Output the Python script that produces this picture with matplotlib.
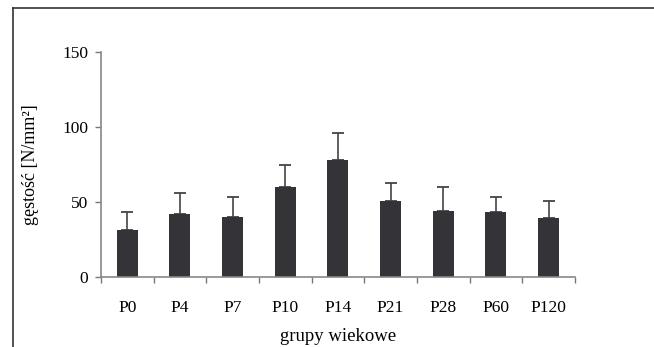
import numpy as np
from matplotlib import pyplot as plt
from matplotlib.lines import Line2D

groups = ["P0", "P4", "P7", "P10", "P14", "P21", "P28", "P60", "P120"]
density = [31.5, 42.2, 40.2, 60.2, 78.2, 50.9, 44.2, 43.5, 39.8]
sd = [12.0, 14.2, 13.6, 14.7, 17.8, 12.2, 15.8, 10.3, 11.3]

plt.rcParams['font.family'] = ['Liberation Serif', 'DejaVu Serif']

fig = plt.figure(figsize=(6.54, 3.47), dpi=100)
ax = fig.add_axes([0.1544, 0.2009, 0.7246, 0.6481])

x = np.arange(len(groups))
ax.bar(x, density, width=0.4, color="#333338", zorder=2)
ax.errorbar(x, density, yerr=[np.zeros(len(sd)), sd], fmt="none",
            ecolor="#444444", elinewidth=1.2, capsize=4.5, capthick=1.3, zorder=1)

ax.set_xlim(-0.5, len(groups) - 0.5)
ax.set_ylim(0, 150)
ax.set_yticks([0, 50, 100, 150])
ax.set_xticks(x)
ax.set_xticklabels(groups)
ax.set_xticks(np.arange(-0.5, len(groups)), minor=True)
ax.tick_params(axis="x", which="major", length=0, pad=16, labelsize=12.5)
ax.tick_params(axis="x", which="minor", length=4, color="#777777", width=1)
ax.tick_params(axis="y", length=4, color="#777777", width=1, labelsize=12.5, pad=5)

for s in ["top", "right"]:
    ax.spines[s].set_visible(False)
for s in ["left", "bottom"]:
    ax.spines[s].set_color("#888888")
    ax.spines[s].set_linewidth(1.2)

ax.set_xlabel("grupy wiekowe", fontsize=13.5, va="center")
ax.xaxis.set_label_coords(0.5, -0.262)
ax.set_ylabel("gęstość [N/mm²]", fontsize=13, va="center")
ax.yaxis.set_label_coords(-0.148, 0.5)

# outer frame (left and top edges visible)
fig.add_artist(Line2D([12.5 / 654, 12.5 / 654], [0, 1 - 7.5 / 347], color="#333333", lw=1.2))
fig.add_artist(Line2D([12.5 / 654, 1], [1 - 7.5 / 347, 1 - 7.5 / 347], color="#333333", lw=1.2))

fig.savefig("out.png", dpi=100)
